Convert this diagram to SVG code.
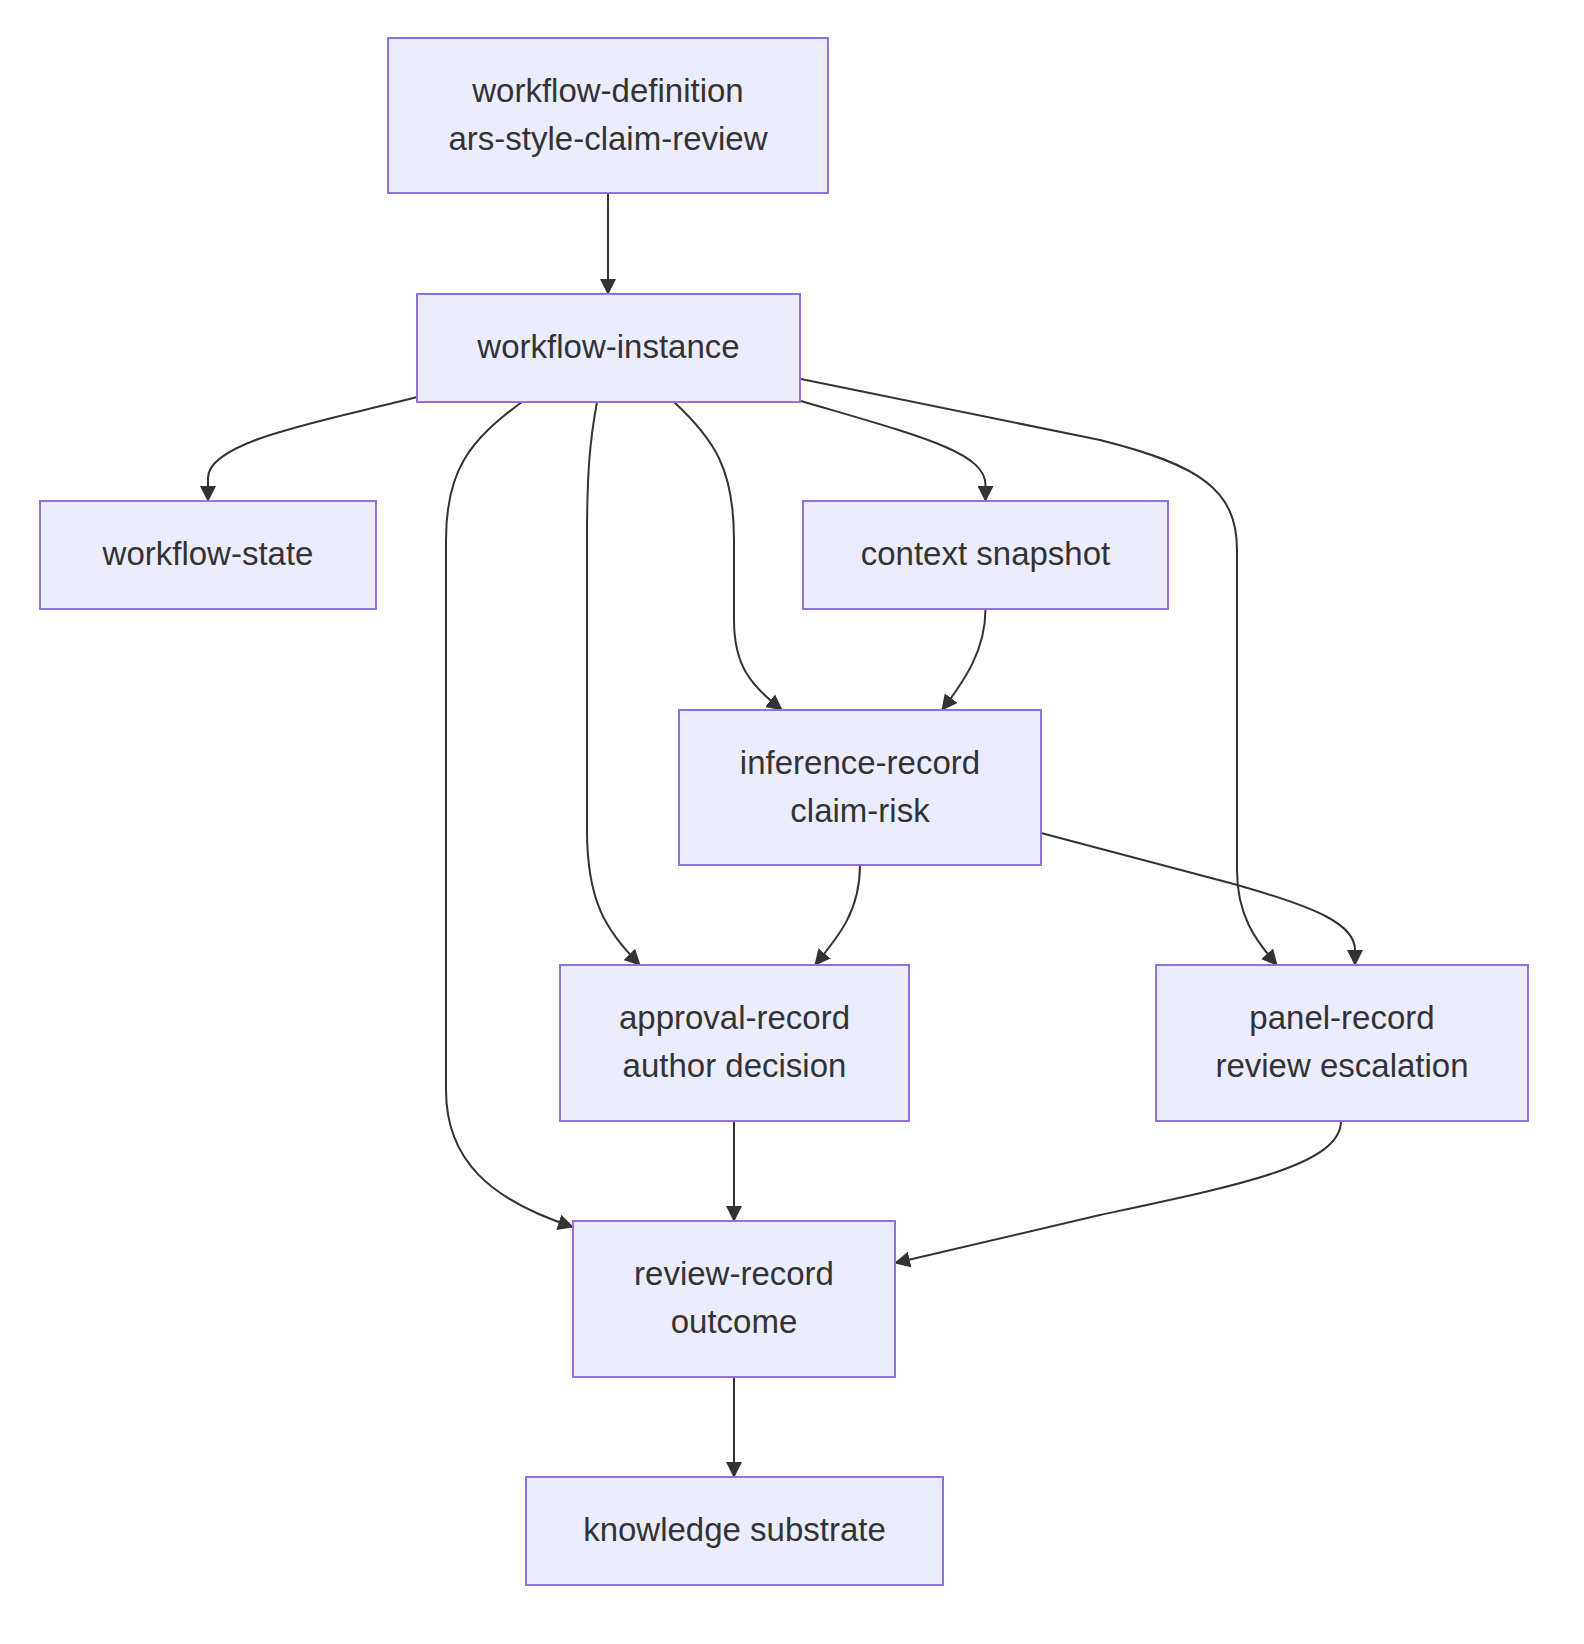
<svg xmlns="http://www.w3.org/2000/svg" width="1584" height="1644" viewBox="0 0 1584 1644">
<style>
.node rect{fill:#ECECFF;stroke:#9370DB;stroke-width:2}
.node text{font-family:"Liberation Sans",Arial,sans-serif;font-size:33px;fill:#333333;text-anchor:middle}
.edges path{fill:none;stroke:#333333;stroke-width:2;marker-end:url(#arrow)}
</style>
<defs>
<marker id="arrow" markerUnits="userSpaceOnUse" viewBox="0 0 16 16" refX="15" refY="8" markerWidth="16" markerHeight="16" orient="auto">
<path d="M0,0 L16,8 L0,16 z" fill="#333333"/>
</marker>
</defs>
<rect width="1584" height="1644" fill="#ffffff"/>
<g class="edges">
<path d="M608,193 L608,294"/>
<path d="M417,397 C330,420 208,440 208,478 L208,501"/>
<path d="M801,401 C920,436 985.5,452 985.5,485 L985.5,501"/>
<path d="M801,379 L1100,440 C1200,465 1237,490 1237,550 L1237,870 C1237,915 1255,940 1277,965"/>
<path d="M522,402 C470,440 446,470 446,540 L446,1090 C446,1160 490,1200 573,1227"/>
<path d="M597,402 C590,440 587,470 587,540 L587,830 C587,900 605,930 640,965"/>
<path d="M674,402 C715,440 734,470 734,540 L734,620 C734,665 750,685 782,710"/>
<path d="M985.5,609 C985.5,650 965,680 942,710"/>
<path d="M860,865 C860,910 840,935 815,965"/>
<path d="M1041,833 L1230,883 C1320,908 1355,925 1355,950 L1355,965"/>
<path d="M734,1121 L734,1221"/>
<path d="M1341,1121 C1341,1165 1240,1185 1100,1215 L895,1263"/>
<path d="M734,1377 L734,1477"/>
</g>
<g id="workflow-definition" class="node">
<rect x="388" y="38" width="440" height="155"/>
<text x="608" y="102">workflow-definition</text>
<text x="608" y="150">ars-style-claim-review</text>
</g>
<g id="workflow-instance" class="node">
<rect x="417" y="294" width="383" height="108"/>
<text x="608.5" y="358">workflow-instance</text>
</g>
<g id="workflow-state" class="node">
<rect x="40" y="501" width="336" height="108"/>
<text x="208" y="565">workflow-state</text>
</g>
<g id="context-snapshot" class="node">
<rect x="803" y="501" width="365" height="108"/>
<text x="985.5" y="565">context snapshot</text>
</g>
<g id="inference-record" class="node">
<rect x="679" y="710" width="362" height="155"/>
<text x="860" y="774">inference-record</text>
<text x="860" y="822">claim-risk</text>
</g>
<g id="approval-record" class="node">
<rect x="560" y="965" width="349" height="156"/>
<text x="734.5" y="1029">approval-record</text>
<text x="734.5" y="1077">author decision</text>
</g>
<g id="panel-record" class="node">
<rect x="1156" y="965" width="372" height="156"/>
<text x="1342" y="1029">panel-record</text>
<text x="1342" y="1077">review escalation</text>
</g>
<g id="review-record" class="node">
<rect x="573" y="1221" width="322" height="156"/>
<text x="734" y="1285">review-record</text>
<text x="734" y="1333">outcome</text>
</g>
<g id="knowledge-substrate" class="node">
<rect x="526" y="1477" width="417" height="108"/>
<text x="734.5" y="1541">knowledge substrate</text>
</g>
</svg>
